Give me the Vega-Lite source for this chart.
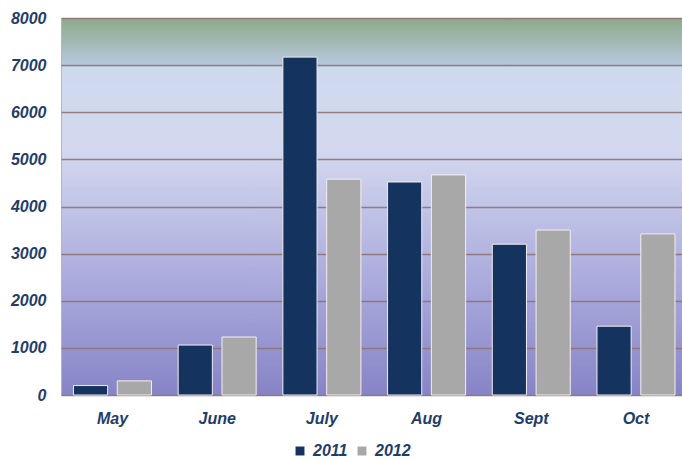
{
  "$schema": "https://vega.github.io/schema/vega-lite/v6.json",
  "width": 621,
  "height": 377,
  "autosize": {"type": "none"},
  "padding": {"left": 61, "top": 18, "right": 0, "bottom": 66},
  "background": "#ffffff",
  "config": {
    "font": "Liberation Sans",
    "view": {
      "stroke": "#b8b0c8",
      "strokeWidth": 1,
      "fill": {
        "gradient": "linear",
        "x1": 0, "y1": 0, "x2": 0, "y2": 1,
        "stops": [
          {"offset": 0, "color": "#8ea98a"},
          {"offset": 0.122, "color": "#b6c8dc"},
          {"offset": 0.13, "color": "#cfd9ee"},
          {"offset": 0.35, "color": "#d2d8ef"},
          {"offset": 0.7, "color": "#aaaadc"},
          {"offset": 1, "color": "#8784c6"}
        ]
      }
    }
  },
  "data": {
    "values": [
      {"month": "May", "year": "2011", "value": 200},
      {"month": "May", "year": "2012", "value": 300},
      {"month": "June", "year": "2011", "value": 1060},
      {"month": "June", "year": "2012", "value": 1230},
      {"month": "July", "year": "2011", "value": 7170},
      {"month": "July", "year": "2012", "value": 4580},
      {"month": "Aug", "year": "2011", "value": 4520},
      {"month": "Aug", "year": "2012", "value": 4670},
      {"month": "Sept", "year": "2011", "value": 3200},
      {"month": "Sept", "year": "2012", "value": 3500},
      {"month": "Oct", "year": "2011", "value": 1460},
      {"month": "Oct", "year": "2012", "value": 3420}
    ]
  },
  "mark": {"type": "bar", "stroke": "#f4eef0", "strokeWidth": 1},
  "encoding": {
    "x": {
      "field": "month",
      "type": "nominal",
      "sort": ["May", "June", "July", "Aug", "Sept", "Oct"],
      "scale": {"paddingInner": 0.255, "paddingOuter": 0.093, "align": 0.64},
      "axis": {
        "title": null,
        "labelAngle": 0,
        "domain": false,
        "ticks": false,
        "labelPadding": 15,
        "labelFontSize": 16,
        "labelFontWeight": "bold",
        "labelFontStyle": "italic",
        "labelColor": "#1f3d6b"
      }
    },
    "xOffset": {
      "field": "year",
      "type": "nominal",
      "scale": {"paddingInner": 0.22}
    },
    "y": {
      "field": "value",
      "type": "quantitative",
      "scale": {"domain": [0, 8000], "nice": false},
      "axis": {
        "title": null,
        "format": "d",
        "values": [0, 1000, 2000, 3000, 4000, 5000, 6000, 7000, 8000],
        "domain": false,
        "ticks": false,
        "labelPadding": 15,
        "labelFontSize": 16,
        "labelFontWeight": "bold",
        "labelFontStyle": "italic",
        "labelColor": "#1f3d6b",
        "gridColor": "#8e7272",
        "gridWidth": 1.5,
        "gridOpacity": 0.9
      }
    },
    "color": {
      "field": "year",
      "type": "nominal",
      "scale": {"domain": ["2011", "2012"], "range": ["#14335f", "#a8a8a8"]},
      "legend": {
        "title": null,
        "orient": "none",
        "direction": "horizontal",
        "legendX": 231,
        "legendY": 425,
        "symbolType": "square",
        "symbolSize": 80,
        "symbolStrokeWidth": 0,
        "columnPadding": 6,
        "labelFontSize": 16,
        "labelFontWeight": "bold",
        "labelFontStyle": "italic",
        "labelColor": "#1f3d6b",
        "labelOffset": 5
      }
    }
  }
}
